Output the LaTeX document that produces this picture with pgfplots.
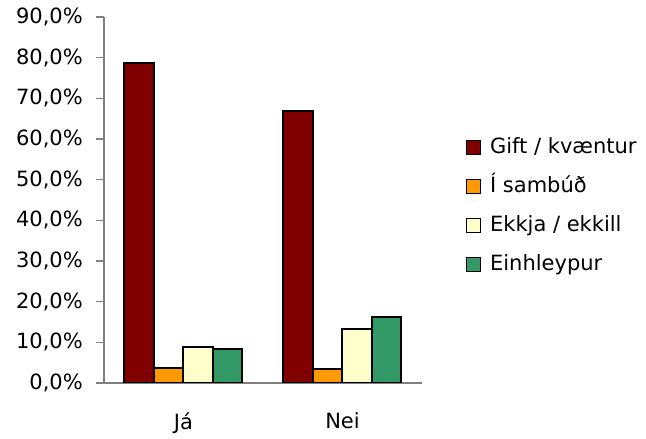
\documentclass[border=0pt]{standalone}
\usepackage{fontspec}
\setmainfont{DejaVu Sans}
\usepackage{pgfplots}
\pgfplotsset{compat=1.18}
\definecolor{cRed}{HTML}{800000}
\definecolor{cOrange}{HTML}{FF9900}
\definecolor{cYellow}{HTML}{FFFFCC}
\definecolor{cGreen}{HTML}{339966}
\definecolor{axgray}{HTML}{808080}
\begin{document}
\begin{tikzpicture}
\path[use as bounding box] (-104pt,-56pt) rectangle (542pt,383pt);
\begin{axis}[
  scale only axis,
  width=318pt, height=366pt,
  font=\fontsize{21}{25}\selectfont,
  ybar=0pt,
  bar width=29.5pt,
  xmin=-0.5, xmax=1.5,
  ymin=0, ymax=90,
  axis x line*=bottom,
  axis y line*=left,
  axis line style={axgray, line width=1.2pt, -},
  xtick={0,1},
  xticklabels={Já,Nei},
  extra x ticks={-0.5,0.5,1.5},
  extra x tick labels={},
  extra x tick style={major tick length=8pt, tick style={axgray, line width=1.2pt}, grid=none},
  x tick style={draw=none},
  xticklabel style={yshift=-18pt},
  ytick={0,10,...,90},
  yticklabels={{0,0\%},{10,0\%},{20,0\%},{30,0\%},{40,0\%},{50,0\%},{60,0\%},{70,0\%},{80,0\%},{90,0\%}},
  y tick style={axgray, line width=1.2pt},
  tick align=outside,
  major tick length=8pt,
  yticklabel style={inner sep=0pt, xshift=-13pt},
  every outer x axis line/.append style={-},
  every outer y axis line/.append style={-},
  legend style={draw=none, fill=none, at={(1.127,0.483)}, anchor=west,
    row sep=18pt, column sep=9pt, font=\fontsize{21}{25}\selectfont,
    nodes={inner sep=0pt, text height=16pt, text depth=5pt}},
  legend cell align=left,
  legend image code/.code={\draw[#1, line width=1.5pt] (0pt,-7pt) rectangle (14pt,7pt);},
]
\addplot[fill=cRed, draw=black, line width=2pt] coordinates {(0,78.8) (1,66.9)};
\addplot[fill=cOrange, draw=black, line width=2pt] coordinates {(0,3.8) (1,3.4)};
\addplot[fill=cYellow, draw=black, line width=2pt] coordinates {(0,8.8) (1,13.2)};
\addplot[fill=cGreen, draw=black, line width=2pt] coordinates {(0,8.3) (1,16.3)};
\legend{Gift / kvæntur, Í sambúð, Ekkja / ekkill, Einhleypur}
\end{axis}
\end{tikzpicture}
\end{document}
